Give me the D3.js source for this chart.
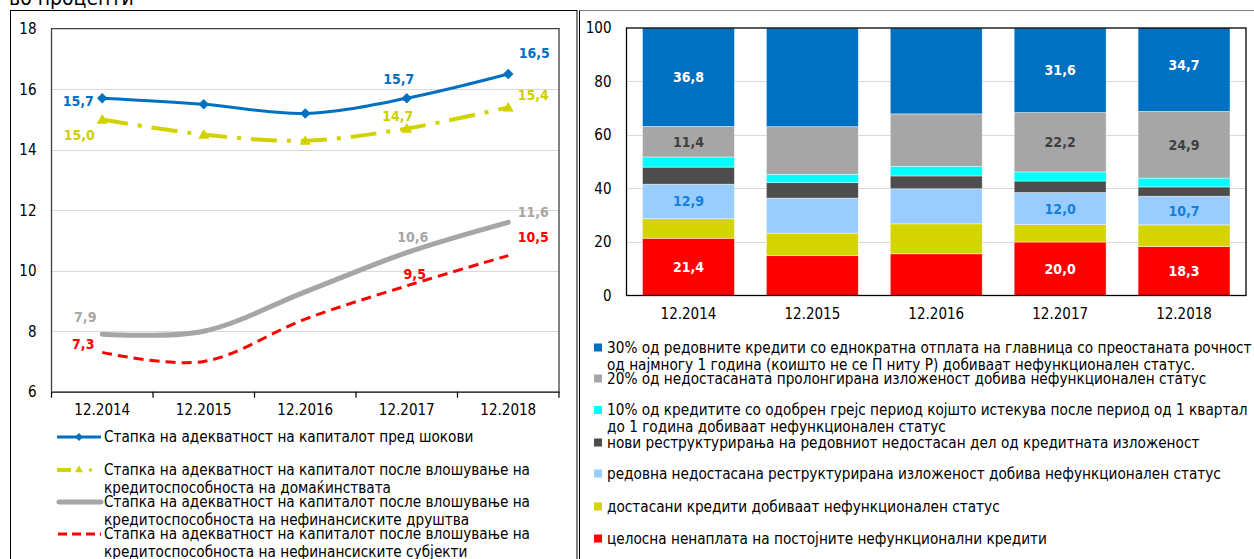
<!DOCTYPE html>
<html>
<head>
<meta charset="utf-8">
<script src="https://cdn.jsdelivr.net/npm/d3@7"></script>
<style>
  body { margin: 0; background: #fff; }
  svg { display: block; }
  text { font-family: "DejaVu Sans Condensed", "Liberation Sans", sans-serif; }
</style>
</head>
<body>
<svg id="chart" width="1254" height="559"></svg>
<script>
// ---------------- DATA ----------------
const categories = ["12.2014", "12.2015", "12.2016", "12.2017", "12.2018"];

// left chart: capital adequacy ratios (%)
const carBeforeShocks   = [15.7, 15.5, 15.2, 15.7, 16.5];
const carHouseholds     = [15.0, 14.5, 14.3, 14.7, 15.4];
const carCorporates     = [7.9, 8.0, 9.3, 10.6, 11.6];
const carNonFinancial   = [7.3, 7.0, 8.4, 9.5, 10.5];
const leftTicks = [6, 8, 10, 12, 14, 16, 18];
const leftLabelled = [[0, 3, 4], [0, 3, 4], [0, 3, 4], [0, 3, 4]];

// right chart: structure (%), bottom to top
const fullNonCollection   = [21.4, 14.9, 15.6, 20.0, 18.3];
const pastDueLoans        = [7.3, 8.4, 11.2, 6.5, 8.1];
const restructuredRegular = [12.9, 13.1, 13.1, 12.0, 10.7];
const newRestructurings   = [6.4, 5.8, 4.8, 4.3, 3.5];
const gracePeriodLoans    = [3.8, 3.1, 3.6, 3.4, 3.3];
const prolongedExposure   = [11.4, 17.8, 19.6, 22.2, 24.9];
const bulletRepayment     = [36.8, 36.9, 32.1, 31.6, 34.7];
const rightTicks = [0, 20, 40, 60, 80, 100];
const labelledBars = [0, 3, 4];

const leftLegend = [
  ["Стапка на адекватност на капиталот пред шокови"],
  ["Стапка на адекватност на капиталот после влошување на", "кредитоспособноста на домаќинствата"],
  ["Стапка на адекватност на капиталот после влошување на", "кредитоспособноста на нефинансиските друштва"],
  ["Стапка на адекватност на капиталот после влошување на", "кредитоспособноста на нефинансиските субјекти"]
];
const rightLegend = [
  ["30% од редовните кредити со еднократна отплата на главница со преостаната рочност", "од најмногу 1 година (коишто не се П ниту Р) добиваат нефункционален статус."],
  ["20% од недостасаната пролонгирана изложеност добива нефункционален статус"],
  ["10% од кредитите со одобрен грејс период којшто истекува после период од 1 квартал", "до 1 година добиваат нефункционален статус"],
  ["нови реструктурирања на редовниот недостасан дел од кредитната изложеност"],
  ["редовна недостасана реструктурирана изложеност добива нефункционален статус"],
  ["достасани кредити добиваат нефункционален статус"],
  ["целосна ненаплата на постојните нефункционални кредити"]
];

// ---------------- LAYOUT / STYLE ----------------
const svg = d3.select("#chart");
svg.append("rect").attr("width", 1254).attr("height", 559).attr("fill", "#fff");

// title (cut off at top)
svg.append("text").attr("x", 9).attr("y", 5).attr("font-size", 21)
  .attr("font-family", "Liberation Sans, sans-serif").attr("fill", "#000").text("во проценти");

// panel borders
svg.append("rect").attr("x", 10.5).attr("y", 10.5).attr("width", 566.5).attr("height", 560)
  .attr("fill", "none").attr("stroke", "#000").attr("stroke-width", 1);
svg.append("line").attr("x1", 579.5).attr("x2", 1254).attr("y1", 10.5).attr("y2", 10.5)
  .attr("stroke", "#808080").attr("stroke-width", 1.2);
svg.append("line").attr("x1", 579.5).attr("x2", 579.5).attr("y1", 10.5).attr("y2", 559)
  .attr("stroke", "#000").attr("stroke-width", 1);

// ================= LEFT CHART =================
const L = { left: 51.5, right: 559, top: 28.7, bottom: 391.7 };
const xL = d3.scaleBand().domain(categories).range([L.left, L.right]);
const yL = d3.scaleLinear().domain([6, 18]).range([L.bottom, L.top]);
const gL = svg.append("g");

gL.selectAll(".gridL").data(leftTicks.filter(t => t > 6 && t < 18)).join("line")
  .attr("x1", L.left).attr("x2", L.right)
  .attr("y1", d => Math.round(yL(d)) + 0.5).attr("y2", d => Math.round(yL(d)) + 0.5)
  .attr("stroke", "#d9d9d9").attr("stroke-width", 1);

// plot frame
gL.append("path")
  .attr("d", `M${L.left},${L.bottom} V${L.top} H${L.right} V${L.bottom}`)
  .attr("fill", "none").attr("stroke", "#404040").attr("stroke-width", 1.3);

// y axis labels
const yAxisL = d3.axisLeft(yL).tickValues(leftTicks).tickSize(0).tickPadding(15);
const yaL = gL.append("g").attr("transform", `translate(${L.left},0)`).call(yAxisL);
yaL.select(".domain").remove();
yaL.selectAll("text").attr("font-size", 15).attr("fill", "#000")
  .attr("font-family", "DejaVu Sans Condensed, Liberation Sans, sans-serif");

// x axis
const xAxisL = d3.axisBottom(xL).tickSize(0).tickPadding(13);
const xaL = gL.append("g").attr("transform", `translate(0,${L.bottom})`).call(xAxisL);
xaL.select(".domain").attr("stroke", "#000").attr("stroke-width", 1.3);
xaL.selectAll("text").attr("font-size", 15).attr("fill", "#000")
  .attr("font-family", "DejaVu Sans Condensed, Liberation Sans, sans-serif");
const boundaries = categories.map(c => xL(c)).concat([L.right]);
gL.selectAll(".tickL").data(boundaries).join("line")
  .attr("x1", d => d).attr("x2", d => d).attr("y1", L.bottom).attr("y2", L.bottom + 6)
  .attr("stroke", "#000").attr("stroke-width", 1.2);

const cx = (d, i) => xL(categories[i]) + xL.bandwidth() / 2;
const lineGen = d3.line().x((d, i) => cx(d, i)).y(d => yL(d)).curve(d3.curveCardinal.tension(0));

const leftSeries = [
  { values: carBeforeShocks, color: "#0070C0", width: 3, dash: null, marker: "diamond", labelColor: "#0070C0" },
  { values: carHouseholds, color: "#D2D200", width: 4, dash: "26,10,4,10", marker: "triangle", labelColor: "#CFCF00" },
  { values: carCorporates, color: "#A6A6A6", width: 5, dash: null, marker: null, labelColor: "#A6A6A6" },
  { values: carNonFinancial, color: "#FF0000", width: 3, dash: "10,6", marker: null, labelColor: "#FF0000" }
];
// label offsets relative to point (layout), per series / labelled index
const labelOffsets = [
  [[-24, 3], [-8, -19], [26, -21]],
  [[-23, 16], [-9, -13], [25, -12]],
  [[-17, -17], [6, -16], [25, -10]],
  [[-19, -8], [8, -12], [25, -19]]
];

// draw order: gray, red, yellow, blue
[2, 3, 1, 0].forEach(si => {
  const s = leftSeries[si];
  gL.append("path").attr("d", lineGen(s.values)).attr("fill", "none")
    .attr("stroke", s.color).attr("stroke-width", s.width)
    .attr("stroke-dasharray", s.dash).attr("stroke-linejoin", "round")
    .attr("stroke-linecap", s.dash ? "butt" : "round");
  if (s.marker === "diamond") {
    gL.selectAll(null).data(s.values).join("path")
      .attr("d", d3.symbol(d3.symbolDiamond2, 70)())
      .attr("transform", (d, i) => `translate(${cx(d, i)},${yL(d)})`)
      .attr("fill", s.color);
  } else if (s.marker === "triangle") {
    gL.selectAll(null).data(s.values).join("path")
      .attr("d", d3.symbol(d3.symbolTriangle2, 90)())
      .attr("transform", (d, i) => `translate(${cx(d, i)},${yL(d) + 1})`)
      .attr("fill", s.color);
  }
});
leftSeries.forEach((s, si) => {
  leftLabelled[si].forEach((idx, k) => {
    const v = s.values[idx];
    gL.append("text")
      .attr("x", cx(v, idx) + labelOffsets[si][k][0])
      .attr("y", yL(v) + labelOffsets[si][k][1])
      .attr("text-anchor", "middle").attr("dominant-baseline", "central")
      .attr("font-size", 14).attr("font-weight", "bold").attr("fill", s.labelColor)
      .text(d3.format(".1f")(v).replace(".", ","));
  });
});

// left legend
const leftLegendY = [437, 470, 502, 534];
leftLegend.forEach((lines, i) => {
  const y = leftLegendY[i];
  const s = leftSeries[i];
  const g = gL.append("g");
  if (i === 0) {
    g.append("line").attr("x1", 57).attr("x2", 101).attr("y1", y).attr("y2", y)
      .attr("stroke", s.color).attr("stroke-width", 3);
    g.append("path").attr("d", d3.symbol(d3.symbolDiamond2, 40)()).attr("transform", `translate(79,${y})`).attr("fill", s.color);
  } else if (i === 1) {
    g.append("line").attr("x1", 57).attr("x2", 71).attr("y1", y).attr("y2", y)
      .attr("stroke", s.color).attr("stroke-width", 4);
    g.append("path").attr("d", d3.symbol(d3.symbolTriangle2, 45)()).attr("transform", `translate(79,${y})`).attr("fill", s.color);
    g.append("rect").attr("x", 89).attr("y", y - 1.5).attr("width", 3).attr("height", 3).attr("fill", s.color);
  } else if (i === 2) {
    g.append("line").attr("x1", 59).attr("x2", 101).attr("y1", y).attr("y2", y)
      .attr("stroke", s.color).attr("stroke-width", 5).attr("stroke-linecap", "round");
  } else {
    g.append("line").attr("x1", 58).attr("x2", 101).attr("y1", y).attr("y2", y)
      .attr("stroke", s.color).attr("stroke-width", 3).attr("stroke-dasharray", "9,5");
  }
  lines.forEach((t, j) => {
    g.append("text").attr("x", 104).attr("y", y + j * 18).attr("dominant-baseline", "central")
      .attr("font-size", 15.2).attr("fill", "#000").text(t);
  });
});

// ================= RIGHT CHART =================
const R = { left: 626.5, right: 1246, top: 28, bottom: 295.5 };
const xR = d3.scaleBand().domain(categories).range([R.left, R.right]).paddingInner(0.258).paddingOuter(0.129);
const yR = d3.scaleLinear().domain([0, 100]).range([R.bottom, R.top]);
const gR = svg.append("g");

gR.selectAll(".gridR").data(rightTicks.filter(t => t > 0 && t < 100)).join("line")
  .attr("x1", R.left).attr("x2", R.right)
  .attr("y1", d => Math.round(yR(d)) + 0.5).attr("y2", d => Math.round(yR(d)) + 0.5)
  .attr("stroke", "#d9d9d9").attr("stroke-width", 1);

const stackSeries = [
  { key: "fullNonCollection", values: fullNonCollection, color: "#FF0000", label: "#fff" },
  { key: "pastDueLoans", values: pastDueLoans, color: "#D4D400", label: null },
  { key: "restructuredRegular", values: restructuredRegular, color: "#99CCFF", label: "#1580DA" },
  { key: "newRestructurings", values: newRestructurings, color: "#4D4D4D", label: null },
  { key: "gracePeriodLoans", values: gracePeriodLoans, color: "#00FFFF", label: null },
  { key: "prolongedExposure", values: prolongedExposure, color: "#A6A6A6", label: "#404040" },
  { key: "bulletRepayment", values: bulletRepayment, color: "#0070C0", label: "#fff" }
];
const table = categories.map((c, i) => {
  const row = { cat: c };
  stackSeries.forEach(s => row[s.key] = s.values[i]);
  return row;
});
const stacked = d3.stack().keys(stackSeries.map(s => s.key))(table);

svg.append("clipPath").attr("id", "clipR").append("rect")
  .attr("x", R.left).attr("y", R.top).attr("width", R.right - R.left).attr("height", R.bottom - R.top);

const barsG = gR.append("g").attr("clip-path", "url(#clipR)");
stacked.forEach((layer, li) => {
  barsG.selectAll(null).data(layer).join("rect")
    .attr("x", d => xR(d.data.cat)).attr("width", xR.bandwidth())
    .attr("y", d => yR(d[1])).attr("height", d => yR(d[0]) - yR(d[1]))
    .attr("fill", stackSeries[li].color)
    .attr("stroke", "rgba(255,255,255,0.55)").attr("stroke-width", 0.8);
});
stacked.forEach((layer, li) => {
  const s = stackSeries[li];
  if (!s.label) return;
  labelledBars.forEach(bi => {
    const d = layer[bi];
    gR.append("text")
      .attr("x", xR(d.data.cat) + xR.bandwidth() / 2)
      .attr("y", yR((d[0] + d[1]) / 2))
      .attr("text-anchor", "middle").attr("dominant-baseline", "central")
      .attr("font-size", 14).attr("font-weight", "bold").attr("fill", s.label)
      .text(d3.format(".1f")(d.data[s.key]).replace(".", ","));
  });
});

gR.append("rect").attr("x", R.left).attr("y", R.top).attr("width", R.right - R.left).attr("height", R.bottom - R.top)
  .attr("fill", "none").attr("stroke", "#000").attr("stroke-width", 1.3);

const yaR = gR.append("g").attr("transform", `translate(${R.left},0)`)
  .call(d3.axisLeft(yR).tickValues(rightTicks).tickSize(0).tickPadding(15));
yaR.select(".domain").remove();
yaR.selectAll("text").attr("font-size", 15).attr("fill", "#000")
  .attr("font-family", "DejaVu Sans Condensed, Liberation Sans, sans-serif");
const xaR = gR.append("g").attr("transform", `translate(0,${R.bottom})`)
  .call(d3.axisBottom(xR).tickSize(0).tickPadding(13));
xaR.select(".domain").remove();
xaR.selectAll("text").attr("font-size", 15).attr("fill", "#000")
  .attr("font-family", "DejaVu Sans Condensed, Liberation Sans, sans-serif");

// right legend (top to bottom, reverse of stack)
const rightLegendY = [347.5, 378.5, 410, 442.5, 473.5, 506.5, 538.5];
const legendColors = stackSeries.map(s => s.color).reverse();
rightLegend.forEach((lines, i) => {
  const y = rightLegendY[i];
  gR.append("rect").attr("x", 594).attr("y", y - 4).attr("width", 8).attr("height", 8).attr("fill", legendColors[i]);
  lines.forEach((t, j) => {
    gR.append("text").attr("x", 607).attr("y", y + j * 17).attr("dominant-baseline", "central")
      .attr("font-size", 15.2).attr("fill", "#000").text(t);
  });
});
</script>
</body>
</html>
